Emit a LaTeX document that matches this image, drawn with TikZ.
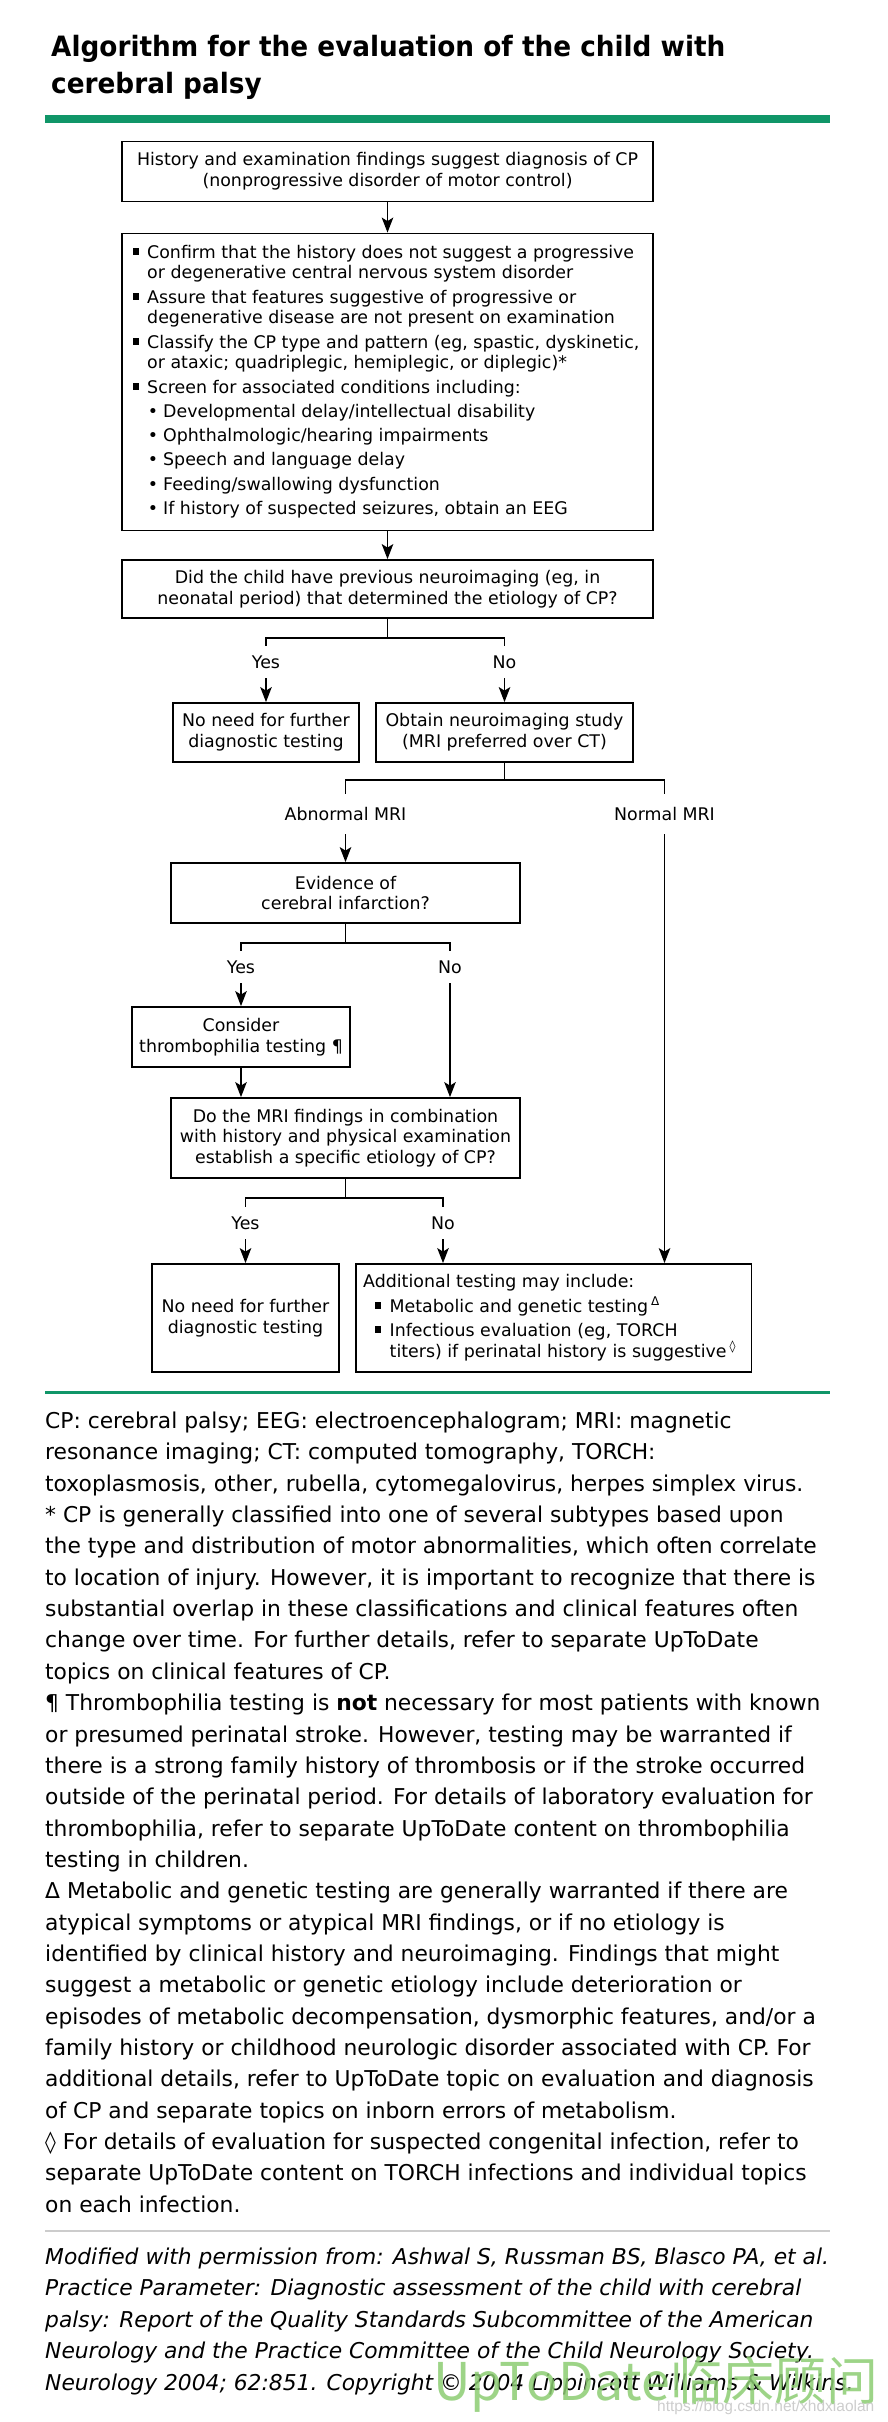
\documentclass[tikz,border=0pt]{standalone}
\usepackage{fontspec}
\setmainfont{DejaVu Sans}
\newfontfamily\titlefont{DejaVu Sans}[FakeStretch=0.94]
\newfontfamily\cjkfont{Noto Sans CJK SC}
\newfontfamily\linkfont{Liberation Sans}
\usetikzlibrary{arrows.meta}
\definecolor{utdgreen}{RGB}{16,150,104}
\definecolor{wmgreen}{RGB}{140,205,115}
\definecolor{urlgray}{RGB}{205,205,205}
\newcommand\bxfont{\fontsize{17.4pt}{20.8pt}\selectfont}
\newcommand\fnfont{\fontsize{21.8pt}{26pt}\selectfont}
\newcommand\sqb{\rule[3.5pt]{6pt}{7pt}}
\newcommand\bsq{\llap{\sqb\hspace{8.5pt}}}
\newcommand\bdot{\llap{•\hspace{5pt}}}
\newcommand\supsym[1]{\,\raisebox{6.5pt}{\fontsize{12pt}{12pt}\selectfont #1}}
\newcommand\fnl[3]{\node[fn] (#1) at (45,{1428.5+31.35*(#2-1)}) {#3};}
\newcommand\itline[3]{\node[fn,font=\fnfont\itshape] (#1) at (45,{2264.5+31.4*(#2-1)}) {#3};}
\begin{document}
\begin{tikzpicture}[x=1pt,y=-1pt,
  box/.style={draw, line width=1.8pt, inner sep=0pt, align=center, font=\bxfont},
  tl/.style={anchor=base west, inner sep=0pt, font=\bxfont},
  fn/.style={anchor=base west, inner sep=0pt, font=\fnfont},
  lab/.style={inner sep=0pt, font=\bxfont, text height=12.5pt, text depth=0pt, minimum height=32pt},
  ln/.style={line width=1.5pt},
  arr/.style={line width=1.6pt, -{Stealth[length=15pt,width=11.5pt,inset=3.5pt]}}]
\useasboundingbox (0,0) rectangle (888,2422);
\fill[white] (0,0) rectangle (888,2422);

% title
\node[anchor=base west, inner sep=0pt, font=\titlefont\bfseries\fontsize{28pt}{36pt}\selectfont] (t1) at (51,57) {Algorithm for the evaluation of the child with};
\node[anchor=base west, inner sep=0pt, font=\titlefont\bfseries\fontsize{28pt}{36pt}\selectfont] (t2) at (51,93) {cerebral palsy};
\fill[utdgreen] (45,115) rectangle (830,123);

% boxes
\node[box, minimum width=531pt, minimum height=60pt] (b1) at (387.5,171.5) {History and examination findings suggest diagnosis of CP\\(nonprogressive disorder of motor control)};
\node[box, minimum width=531pt, minimum height=297pt] (b2) at (387.5,382) {};
\node[box, minimum width=531pt, minimum height=58pt] (b3) at (387.5,589) {Did the child have previous neuroimaging (eg, in\\neonatal period) that determined the etiology of CP?};
\node[box, minimum width=186pt, minimum height=59pt] (b4) at (266,732.5) {No need for further\\diagnostic testing};
\node[box, minimum width=257pt, minimum height=59pt] (b5) at (504.5,732.5) {Obtain neuroimaging study\\(MRI preferred over CT)};
\node[box, minimum width=349pt, minimum height=60pt] (b6) at (345.5,893) {Evidence of\\cerebral infarction?};
\node[box, minimum width=218pt, minimum height=60pt] (b7) at (241,1037) {Consider\\thrombophilia testing ¶};
\node[box, minimum width=349pt, minimum height=80pt] (b8) at (345.5,1138) {Do the MRI findings in combination\\with history and physical examination\\establish a specific etiology of CP?};
\node[box, minimum width=187pt, minimum height=108pt] (b9) at (245.5,1318) {No need for further\\diagnostic testing};
\node[box, minimum width=395.5pt, minimum height=108pt] (b10) at (553.75,1318) {};

% box 2 content
\node[tl] (c1) at (147,258) {\bsq Confirm that the history does not suggest a progressive};
\node[tl] (c2) at (147,278.5) {or degenerative central nervous system disorder};
\node[tl] (c3) at (147,303) {\bsq Assure that features suggestive of progressive or};
\node[tl] (c4) at (147,323.5) {degenerative disease are not present on examination};
\node[tl] (c5) at (147,348) {\bsq Classify the CP type and pattern (eg, spastic, dyskinetic,};
\node[tl] (c6) at (147,368.5) {or ataxic; quadriplegic, hemiplegic, or diplegic)*};
\node[tl] (c7) at (147,393) {\bsq Screen for associated conditions including:};
\node[tl] (c8) at (163,417) {\bdot Developmental delay/intellectual disability};
\node[tl] (c9) at (163,441) {\bdot Ophthalmologic/hearing impairments};
\node[tl] (c10) at (163,465) {\bdot Speech and language delay};
\node[tl] (c11) at (163,490) {\bdot Feeding/swallowing dysfunction};
\node[tl] (c12) at (163,514) {\bdot If history of suspected seizures, obtain an EEG};

% box 10 content
\node[tl] (d1) at (363,1287) {Additional testing may include:};
\node[tl] (d2) at (389.5,1312) {\bsq Metabolic and genetic testing\supsym{Δ}};
\node[tl] (d3) at (389.5,1336) {\bsq Infectious evaluation (eg, TORCH};
\node[tl] (d4) at (389.5,1357) {titers) if perinatal history is suggestive\supsym{◊}};

% labels
\node[lab] (yes1) at (266,662) {Yes};
\node[lab] (no1) at (504.5,662) {No};
\node[lab, minimum height=40pt] (abn) at (345.5,814) {Abnormal MRI};
\node[lab, minimum height=40pt] (nor) at (664.5,814) {Normal MRI};
\node[lab] (yes2) at (241,967) {Yes};
\node[lab] (no2) at (450,967) {No};
\node[lab] (yes3) at (245.5,1223) {Yes};
\node[lab] (no3) at (443,1223) {No};

% connectors
\draw[arr] (b1.south) -- (b2.north);
\draw[arr] (b2.south) -- (b3.north);
\draw[ln] (b3.south) -- ++(0,19) -| (yes1.north);
\draw[ln] (b3.south) -- ++(0,19) -| (no1.north);
\draw[arr] (yes1.south) -- (b4.north);
\draw[arr] (no1.south) -- (b5.north);
\draw[ln] (b5.south) -- ++(0,17) -| (abn.north);
\draw[ln] (b5.south) -- ++(0,17) -| (nor.north);
\draw[arr] (abn.south) -- (b6.north);
\draw[arr] (nor.south) -- (nor.south |- b10.north);
\draw[ln] (b6.south) -- ++(0,19) -| (yes2.north);
\draw[ln] (b6.south) -- ++(0,19) -| (no2.north);
\draw[arr] (yes2.south) -- (b7.north);
\draw[arr] (no2.south) -- (no2.south |- b8.north);
\draw[arr] (b7.south) -- (b7.south |- b8.north);
\draw[ln] (b8.south) -- ++(0,19) -| (yes3.north);
\draw[ln] (b8.south) -- ++(0,19) -| (no3.north);
\draw[arr] (yes3.south) -- (b9.north);
\draw[arr] (no3.south) -- (no3.south |- b10.north);

\fill[utdgreen] (45,1390.5) rectangle (830,1394);

% footnotes
\fnl{f1}{1}{CP: cerebral palsy; EEG: electroencephalogram; MRI: magnetic}
\fnl{f2}{2}{resonance imaging; CT: computed tomography, TORCH:}
\fnl{f3}{3}{toxoplasmosis, other, rubella, cytomegalovirus, herpes simplex virus.}
\fnl{f4}{4}{* CP is generally classified into one of several subtypes based upon}
\fnl{f5}{5}{the type and distribution of motor abnormalities, which often correlate}
\fnl{f6}{6}{to location of injury. However, it is important to recognize that there is}
\fnl{f7}{7}{substantial overlap in these classifications and clinical features often}
\fnl{f8}{8}{change over time. For further details, refer to separate UpToDate}
\fnl{f9}{9}{topics on clinical features of CP.}
\fnl{f10}{10}{¶ Thrombophilia testing is {\bfseries not} necessary for most patients with known}
\fnl{f11}{11}{or presumed perinatal stroke. However, testing may be warranted if}
\fnl{f12}{12}{there is a strong family history of thrombosis or if the stroke occurred}
\fnl{f13}{13}{outside of the perinatal period. For details of laboratory evaluation for}
\fnl{f14}{14}{thrombophilia, refer to separate UpToDate content on thrombophilia}
\fnl{f15}{15}{testing in children.}
\fnl{f16}{16}{Δ Metabolic and genetic testing are generally warranted if there are}
\fnl{f17}{17}{atypical symptoms or atypical MRI findings, or if no etiology is}
\fnl{f18}{18}{identified by clinical history and neuroimaging. Findings that might}
\fnl{f19}{19}{suggest a metabolic or genetic etiology include deterioration or}
\fnl{f20}{20}{episodes of metabolic decompensation, dysmorphic features, and/or a}
\fnl{f21}{21}{family history or childhood neurologic disorder associated with CP. For}
\fnl{f22}{22}{additional details, refer to UpToDate topic on evaluation and diagnosis}
\fnl{f23}{23}{of CP and separate topics on inborn errors of metabolism.}
\fnl{f24}{24}{◊ For details of evaluation for suspected congenital infection, refer to}
\fnl{f25}{25}{separate UpToDate content on TORCH infections and individual topics}
\fnl{f26}{26}{on each infection.}

\fill[black!20] (45,2229.5) rectangle (830,2231.5);

\itline{g1}{1}{Modified with permission from: Ashwal S, Russman BS, Blasco PA, et al.}
\itline{g2}{2}{Practice Parameter: Diagnostic assessment of the child with cerebral}
\itline{g3}{3}{palsy: Report of the Quality Standards Subcommittee of the American}
\itline{g4}{4}{Neurology and the Practice Committee of the Child Neurology Society.}
\itline{g5}{5}{Neurology 2004; 62:851. Copyright © 2004 Lippincott Williams \& Wilkins.}

% watermark
\node[anchor=base west, inner sep=0pt, text=wmgreen, opacity=0.85, font=\cjkfont\fontsize{52pt}{52pt}\selectfont] (wm) at (433,2400) {UpToDate临床顾问};
\node[anchor=base west, inner sep=0pt, text=urlgray, font=\linkfont\fontsize{15.5pt}{15.5pt}\selectfont] (url) at (657,2411) {https://blog.csdn.net/xhdxiaolan};
\end{tikzpicture}
\end{document}
